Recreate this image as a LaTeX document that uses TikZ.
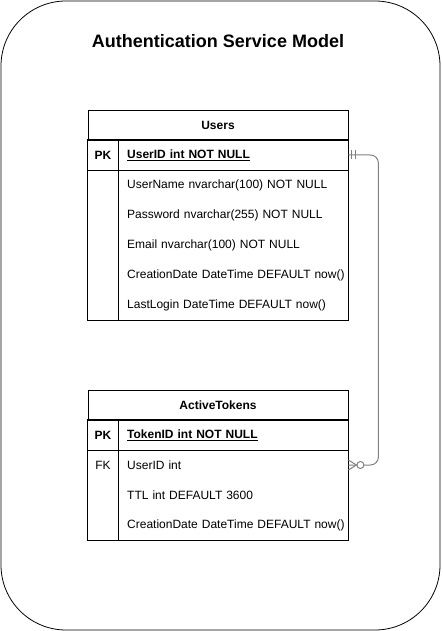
\documentclass[tikz,border=0pt]{standalone}
\usepackage{fontspec}
\setmainfont{Liberation Sans}
\usepackage{tikz}
\usetikzlibrary{positioning}

\begin{document}
\begin{tikzpicture}[
    x=1pt, y=-1pt,
    frame/.style={draw=black, line width=0.8pt, rounded corners=65pt},
    tablehead/.style={rectangle, draw=black, line width=0.8pt, minimum width=260pt, minimum height=30pt, font=\fontsize{12}{14}\selectfont\bfseries},
    keycell/.style={rectangle, minimum width=30pt, minimum height=30pt, inner sep=0pt, font=\fontsize{12}{14}\selectfont},
    field/.style={rectangle, anchor=west, text width=221pt, minimum height=30pt, inner xsep=0pt, align=left, font=\fontsize{12}{14}\selectfont},
    tline/.style={draw=black, line width=0.8pt},
    relline/.style={draw=black!50, line width=1pt}
]
\useasboundingbox (0,0) rectangle (442,631);

% Outer frame and title
\draw[frame] (1,1) rectangle (440,630);
\node[font=\fontsize{18}{21}\selectfont\bfseries] (title) at (218,41) {Authentication Service Model};

% Users table
\node[tablehead] (users) at (218,125) {Users};
\node[keycell, font=\fontsize{12}{14}\selectfont\bfseries] (upk) at (103,155) {PK};
\node[field, font=\fontsize{12}{14}\selectfont\bfseries] (uid) at (127,155) {\underline{UserID int NOT NULL}};
\node[field] (uname) at (127,185) {UserName nvarchar(100) NOT NULL};
\node[field] (upass) at (127,215) {Password nvarchar(255) NOT NULL};
\node[field] (umail) at (127,245) {Email nvarchar(100) NOT NULL};
\node[field] (ucreated) at (127,275) {CreationDate DateTime DEFAULT now()};
\node[field] (ulast) at (127,305) {LastLogin DateTime DEFAULT now()};
\draw[tline] (upk.north west) rectangle (uid.south east);
\draw[tline] (upk.south west) rectangle (ulast.south east);
\draw[tline] (upk.north east) -- (upk.north east |- ulast.south);

% ActiveTokens table
\node[tablehead] (tokens) at (218,405) {ActiveTokens};
\node[keycell, font=\fontsize{12}{14}\selectfont\bfseries] (tpk) at (103,435) {PK};
\node[field, font=\fontsize{12}{14}\selectfont\bfseries] (tid) at (127,435) {\underline{TokenID int NOT NULL}};
\node[keycell] (tfk) at (103,465) {FK};
\node[field] (tuid) at (127,465) {UserID int};
\node[field] (tttl) at (127,495) {TTL int DEFAULT 3600};
\node[field] (tcreated) at (127,525) {CreationDate DateTime DEFAULT now()};
\draw[tline] (tpk.north west) rectangle (tid.south east);
\draw[tline] (tpk.south west) rectangle (tcreated.south east);
\draw[tline] (tpk.north east) -- (tpk.north east |- tcreated.south);

% Relation: one Users row to many ActiveTokens
\draw[relline, rounded corners=8pt] (uid.east) -- ++(30,0) |- (tuid.east);
\draw[relline] ([xshift=3.5pt]uid.east) ++(0,-4.5) -- ++(0,9);
\draw[relline] ([xshift=7pt]uid.east) ++(0,-4.5) -- ++(0,9);
\draw[relline] ([xshift=8pt]tuid.east) -- ([yshift=5pt]tuid.east)
    ([xshift=8pt]tuid.east) -- ([yshift=-5pt]tuid.east);
\draw[relline, fill=white] ([xshift=12pt]tuid.east) circle (3.5pt);

\end{tikzpicture}
\end{document}
